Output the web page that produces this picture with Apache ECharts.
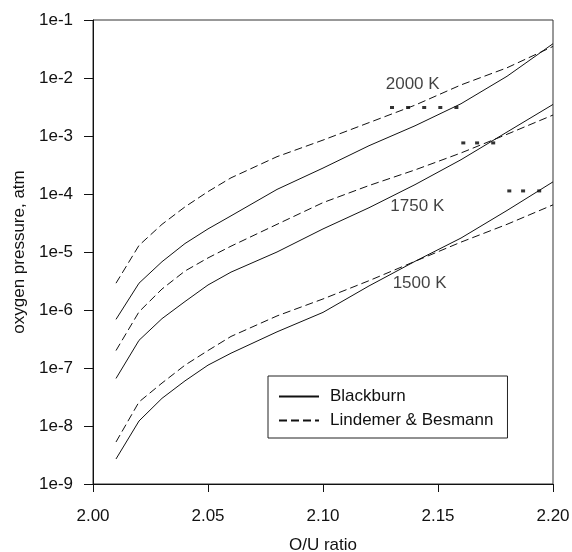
<!DOCTYPE html>
<html>
<head>
<meta charset="utf-8">
<script src="https://cdn.jsdelivr.net/npm/echarts@6/dist/echarts.min.js"></script>
<style>
  html, body { margin: 0; padding: 0; background: #fff; }
  #chart { width: 572px; height: 552px; }
</style>
</head>
<body>
<div id="chart"></div>
<script>
// O/U ratio
var ratio = [2.01, 2.02, 2.03, 2.04, 2.05, 2.06, 2.08, 2.10, 2.12, 2.14, 2.16, 2.18, 2.20];

// Blackburn (solid)
var black2000 = [6.9e-7, 2.9e-6, 6.8e-6, 1.4e-5, 2.5e-5, 4.2e-5, 1.2e-4, 2.8e-4, 6.8e-4, 1.5e-3, 3.6e-3, 1.07e-2, 3.9e-2];
var black1750 = [6.6e-8, 3.0e-7, 7.1e-7, 1.4e-6, 2.7e-6, 4.5e-6, 1.0e-5, 2.5e-5, 5.8e-5, 1.45e-4, 3.9e-4, 1.17e-3, 3.5e-3];
var black1500 = [2.7e-9, 1.22e-8, 3.0e-8, 6.0e-8, 1.12e-7, 1.8e-7, 4.2e-7, 9.1e-7, 2.6e-6, 6.9e-6, 1.74e-5, 5.2e-5, 1.62e-4];

// Lindemer & Besmann (dashed)
var lind2000 = [2.9e-6, 1.3e-5, 3.0e-5, 6.0e-5, 1.1e-4, 1.9e-4, 4.4e-4, 8.5e-4, 1.7e-3, 3.4e-3, 7.6e-3, 1.5e-2, 3.5e-2];
var lind1750 = [2.0e-7, 9.3e-7, 2.3e-6, 4.7e-6, 7.9e-6, 1.26e-5, 3.0e-5, 7.1e-5, 1.4e-4, 2.6e-4, 5.1e-4, 1.07e-3, 2.3e-3];
var lind1500 = [5.3e-9, 2.6e-8, 5.5e-8, 1.12e-7, 2.0e-7, 3.5e-7, 7.9e-7, 1.55e-6, 3.2e-6, 6.9e-6, 1.48e-5, 3.0e-5, 6.5e-5];

// dotted segments
var dots2000 = [[2.130, 3.1e-3], [2.137, 3.1e-3], [2.144, 3.1e-3], [2.151, 3.1e-3], [2.158, 3.1e-3]];
var dots1750 = [[2.161, 7.6e-4], [2.167, 7.6e-4], [2.174, 7.6e-4]];
var dots1500 = [[2.181, 1.13e-4], [2.187, 1.13e-4], [2.194, 1.13e-4]];

// temperature labels
var tempLabels = [
    { name: '2000 K', value: [2.139, 7.9e-3] },
    { name: '1750 K', value: [2.141, 6.2e-5] },
    { name: '1500 K', value: [2.142, 2.9e-6] }
];

var xTicks = [2.00, 2.05, 2.10, 2.15, 2.20];

var font = '"Liberation Sans", Arial, sans-serif';
var ink = '#111';

function pairs(ys) {
    return ratio.map(function (x, i) { return [x, ys[i]]; });
}

function curve(name, ys, dashed) {
    return {
        name: name,
        type: 'line',
        symbol: 'none',
        silent: true,
        data: pairs(ys),
        lineStyle: { color: ink, width: 1, type: dashed ? [8, 4] : 'solid' },
        itemStyle: { color: ink }
    };
}

function dots(d) {
    return {
        type: 'scatter',
        symbol: 'rect',
        symbolSize: [4, 3],
        silent: true,
        data: d,
        itemStyle: { color: '#000' }
    };
}

var option = {
    animation: false,
    backgroundColor: '#fff',
    textStyle: { fontFamily: font },
    grid: {
        left: 93, right: 19, top: 20, bottom: 68,
        outerBoundsMode: 'none',
        containLabel: false,
        show: true, borderColor: '#333', borderWidth: 1
    },
    legend: {
        orient: 'vertical',
        left: 268, top: 376,
        data: ['Blackburn', 'Lindemer & Besmann'],
        itemWidth: 40, itemHeight: 14, itemGap: 7,
        padding: [12, 14, 9, 10],
        borderColor: '#222', borderWidth: 1,
        itemStyle: { opacity: 0 },
        textStyle: { fontSize: 17, color: ink, fontFamily: font, padding: [0, 0, 0, 6] },
        selectedMode: false
    },
    xAxis: {
        type: 'value',
        min: xTicks[0], max: xTicks[xTicks.length - 1], interval: 0.05,
        name: 'O/U ratio', nameLocation: 'middle', nameGap: 53,
        nameTextStyle: { fontSize: 17, color: ink, fontFamily: font },
        axisLine: { lineStyle: { color: ink, width: 1 } },
        axisTick: { length: 8, lineStyle: { color: ink } },
        axisLabel: {
            fontSize: 17, color: ink, margin: 24, fontFamily: font,
            formatter: function (v) { return v.toFixed(2); }
        },
        splitLine: { show: false }
    },
    yAxis: {
        type: 'log', logBase: 10,
        min: 1e-9, max: 1e-1, interval: 1,
        name: 'oxygen pressure, atm', nameLocation: 'middle', nameGap: 60,
        nameTextStyle: { fontSize: 17, color: ink, fontFamily: font },
        axisLine: { show: true, lineStyle: { color: ink, width: 1 } },
        axisTick: { length: 9, lineStyle: { color: ink } },
        axisLabel: {
            fontSize: 17, color: ink, margin: 20, fontFamily: font,
            formatter: function (v) { return '1e' + Math.round(Math.log10(v)); }
        },
        splitLine: { show: false },
        minorTick: { show: false }
    },
    series: [
        curve('Blackburn', black2000, false),
        curve('Blackburn', black1750, false),
        curve('Blackburn', black1500, false),
        curve('Lindemer & Besmann', lind2000, true),
        curve('Lindemer & Besmann', lind1750, true),
        curve('Lindemer & Besmann', lind1500, true),
        dots(dots2000),
        dots(dots1750),
        dots(dots1500),
        {
            type: 'scatter',
            symbolSize: 0,
            silent: true,
            data: tempLabels,
            label: {
                show: true, position: 'inside', formatter: '{b}',
                fontSize: 17, color: ink, fontFamily: font
            }
        }
    ]
};

var myChart = echarts.init(document.getElementById('chart'));
myChart.setOption(option);
</script>
</body>
</html>
